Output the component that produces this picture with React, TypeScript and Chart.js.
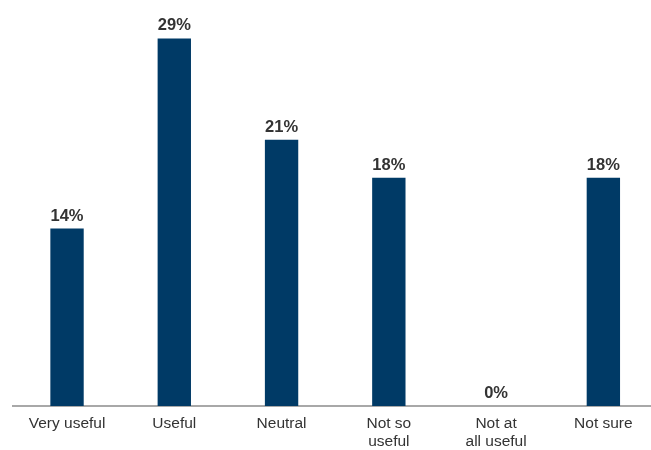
import React, { useEffect, useRef } from "react";
import { Chart, registerables } from "chart.js";

Chart.register(...registerables);

const categories: (string | string[])[] = [
  "Very useful",
  "Useful",
  "Neutral",
  ["Not so", "useful"],
  ["Not at", "all useful"],
  "Not sure",
];
const values: number[] = [14, 29, 21, 18, 0, 18];
const valueLabels: string[] = ["14%", "29%", "21%", "18%", "0%", "18%"];

const BAR_COLOR = "#003a66";
const TEXT_COLOR = "#333333";
const AXIS_COLOR = "#a8a8a8";
const FONT = "'Liberation Sans', Arial, Helvetica, sans-serif";

const valueLabelPlugin = {
  id: "valueLabels",
  afterDatasetsDraw(chart: any) {
    const ctx = chart.ctx;
    const meta = chart.getDatasetMeta(0);
    ctx.save();
    ctx.fillStyle = TEXT_COLOR;
    ctx.font = `bold 16.5px ${FONT}`;
    ctx.textAlign = "center";
    ctx.textBaseline = "alphabetic";
    meta.data.forEach((bar: any, i: number) => {
      ctx.fillText(valueLabels[i], bar.x, bar.y - 8);
    });
    ctx.restore();
  },
};

export default function App() {
  const ref = useRef<HTMLCanvasElement | null>(null);

  useEffect(() => {
    if (!ref.current) return;
    const chart = new Chart(ref.current, {
      type: "bar",
      data: {
        labels: categories,
        datasets: [
          {
            data: values,
            backgroundColor: BAR_COLOR,
            borderWidth: 0,
            barPercentage: 0.311,
            categoryPercentage: 1,
          },
        ],
      },
      options: {
        responsive: false,
        animation: false,
        devicePixelRatio: 1,
        layout: {
          padding: { left: 13.4, right: 3, top: 25.7, bottom: 10 },
        },
        plugins: {
          legend: { display: false },
          tooltip: { enabled: false },
        },
        scales: {
          x: {
            grid: { display: false, drawTicks: false },
            border: { display: true, color: AXIS_COLOR, width: 2 },
            ticks: {
              color: TEXT_COLOR,
              font: { family: FONT, size: 15.5, lineHeight: 18 / 15.5 },
              padding: 9,
              maxRotation: 0,
              autoSkip: false,
            },
          },
          y: {
            display: false,
            min: 0,
            max: 30,
          },
        },
      },
      plugins: [valueLabelPlugin],
    });
    return () => chart.destroy();
  }, []);

  return (
    <div
      style={{
        position: "fixed",
        left: 0,
        top: 0,
        width: 651,
        height: 450,
        overflow: "hidden",
        background: "#fff",
      }}
    >
      <canvas ref={ref} width={660} height={470} style={{ display: "block" }} />
    </div>
  );
}
